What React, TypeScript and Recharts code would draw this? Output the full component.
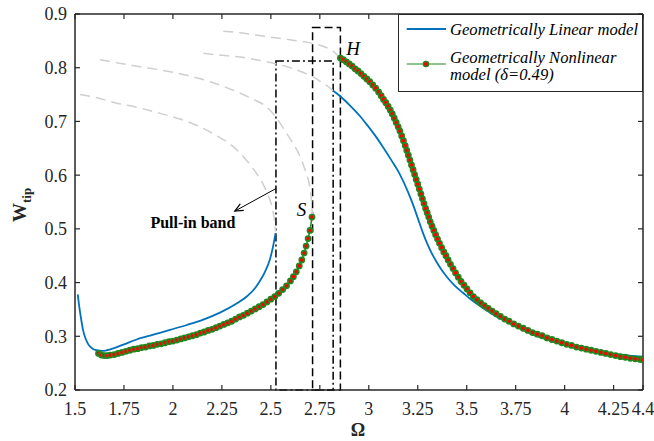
import React from 'react';
import {
  LineChart,
  Line,
  XAxis,
  YAxis,
  ReferenceArea,
  ReferenceLine,
  ReferenceDot,
  Legend,
  Label,
} from 'recharts';

const FONT = '"Liberation Serif", "Times New Roman", serif';
const AXIS = '#262626';
const BLUE = '#0072BD';
const GREEN = '#1f8a1f';
const RED = '#ff0000';
const GRAY = '#cfcfcf';

// ---------- tick labels ----------
const xTicks = [1.5, 1.75, 2, 2.25, 2.5, 2.75, 3, 3.25, 3.5, 3.75, 4, 4.25, 4.4];
const yTicks = [0.2, 0.3, 0.4, 0.5, 0.6, 0.7, 0.8, 0.9];

// ---------- Geometrically linear model (two branches) ----------
const linLowOmega = [1.514, 1.52, 1.53, 1.542, 1.555, 1.568, 1.59, 1.611, 1.64, 1.662, 1.7, 1.75, 1.815, 1.9, 1.985, 2.07, 2.155, 2.24, 2.325, 2.38, 2.42, 2.444, 2.47, 2.495, 2.51, 2.524];
const linLowW = [0.378, 0.36, 0.335, 0.31, 0.295, 0.285, 0.277, 0.274, 0.273, 0.274, 0.278, 0.285, 0.294, 0.303, 0.312, 0.321, 0.331, 0.344, 0.361, 0.375, 0.39, 0.403, 0.42, 0.443, 0.465, 0.492];

const linHighOmega = [2.818, 2.86, 2.903, 2.95, 2.988, 3.03, 3.073, 3.115, 3.158, 3.2, 3.225, 3.25, 3.275, 3.3, 3.325, 3.35, 3.375, 3.4, 3.44, 3.481, 3.52, 3.566, 3.61, 3.651, 3.7, 3.736, 3.78, 3.821, 3.87, 3.92, 3.96, 4.009, 4.06, 4.12, 4.179, 4.24, 4.3, 4.36, 4.4];
const linHighW = [0.757, 0.745, 0.73, 0.712, 0.695, 0.675, 0.652, 0.628, 0.602, 0.569, 0.546, 0.52, 0.494, 0.471, 0.452, 0.436, 0.422, 0.41, 0.394, 0.381, 0.369, 0.357, 0.346, 0.337, 0.328, 0.321, 0.313, 0.306, 0.299, 0.293, 0.288, 0.284, 0.28, 0.275, 0.271, 0.267, 0.265, 0.263, 0.262];

// ---------- Geometrically nonlinear model (two branches) ----------
const nlLowOmega = [1.62, 1.635, 1.65, 1.665, 1.68, 1.7, 1.72, 1.74, 1.76, 1.78, 1.8, 1.82, 1.84, 1.86, 1.88, 1.9, 1.92, 1.94, 1.96, 1.98, 2.0, 2.02, 2.04, 2.06, 2.08, 2.1, 2.12, 2.14, 2.16, 2.18, 2.2, 2.22, 2.24, 2.26, 2.28, 2.3, 2.32, 2.34, 2.36, 2.38, 2.4, 2.42, 2.44, 2.46, 2.48, 2.5, 2.52, 2.54, 2.56, 2.58, 2.6, 2.615, 2.63, 2.645, 2.658, 2.67, 2.68, 2.69, 2.7, 2.71];
const nlLowW = [0.268, 0.265, 0.264, 0.264, 0.265, 0.266, 0.268, 0.27, 0.272, 0.274, 0.276, 0.277, 0.279, 0.28, 0.282, 0.283, 0.285, 0.286, 0.288, 0.29, 0.291, 0.293, 0.295, 0.297, 0.299, 0.301, 0.303, 0.306, 0.308, 0.311, 0.313, 0.316, 0.319, 0.322, 0.325, 0.328, 0.332, 0.336, 0.339, 0.343, 0.347, 0.351, 0.355, 0.359, 0.364, 0.369, 0.374, 0.38, 0.387, 0.394, 0.403, 0.411, 0.42, 0.431, 0.442, 0.455, 0.468, 0.482, 0.497, 0.522];

const nlHighOmega = [2.855, 2.87, 2.885, 2.9, 2.915, 2.93, 2.945, 2.96, 2.975, 2.99, 3.005, 3.02, 3.035, 3.05, 3.063, 3.075, 3.087, 3.099, 3.11, 3.12, 3.13, 3.14, 3.15, 3.159, 3.168, 3.177, 3.186, 3.194, 3.202, 3.21, 3.218, 3.226, 3.234, 3.242, 3.25, 3.258, 3.266, 3.274, 3.282, 3.29, 3.298, 3.306, 3.314, 3.323, 3.332, 3.341, 3.351, 3.361, 3.372, 3.383, 3.394, 3.405, 3.417, 3.43, 3.443, 3.457, 3.471, 3.486, 3.501, 3.517, 3.534, 3.552, 3.571, 3.59, 3.61, 3.63, 3.65, 3.672, 3.694, 3.716, 3.74, 3.764, 3.788, 3.812, 3.836, 3.86, 3.885, 3.91, 3.935, 3.96, 3.985, 4.01, 4.035, 4.06, 4.085, 4.11, 4.135, 4.16, 4.185, 4.21, 4.235, 4.26, 4.285, 4.31, 4.335, 4.36, 4.385, 4.4];
const nlHighW = [0.818, 0.815, 0.811, 0.807, 0.803, 0.798, 0.794, 0.789, 0.784, 0.779, 0.774, 0.768, 0.762, 0.755, 0.748, 0.741, 0.735, 0.728, 0.721, 0.714, 0.706, 0.698, 0.69, 0.682, 0.673, 0.664, 0.655, 0.646, 0.637, 0.628, 0.619, 0.61, 0.601, 0.592, 0.583, 0.574, 0.565, 0.556, 0.547, 0.538, 0.53, 0.522, 0.513, 0.505, 0.497, 0.489, 0.481, 0.473, 0.465, 0.457, 0.45, 0.442, 0.434, 0.426, 0.418, 0.41, 0.402, 0.395, 0.388, 0.381, 0.374, 0.368, 0.362, 0.357, 0.352, 0.347, 0.342, 0.337, 0.332, 0.328, 0.323, 0.319, 0.315, 0.311, 0.307, 0.304, 0.301, 0.297, 0.294, 0.291, 0.288, 0.285, 0.283, 0.28, 0.278, 0.276, 0.274, 0.272, 0.27, 0.268, 0.266, 0.264, 0.262, 0.261, 0.259, 0.258, 0.257, 0.256];

// ---------- light gray dashed backbone curves ----------
const grayAOmega = [1.526, 1.6, 1.713, 1.82, 1.934, 2.04, 2.138, 2.23, 2.308, 2.37, 2.427, 2.465, 2.495, 2.51, 2.52, 2.524];
const grayAW = [0.75, 0.745, 0.734, 0.726, 0.715, 0.704, 0.69, 0.672, 0.653, 0.63, 0.603, 0.58, 0.554, 0.535, 0.51, 0.495];
const grayBOmega = [1.628, 1.7, 1.832, 1.95, 2.07, 2.19, 2.308, 2.4, 2.478, 2.53, 2.58, 2.62, 2.657, 2.68, 2.699, 2.708, 2.712];
const grayBW = [0.815, 0.81, 0.802, 0.795, 0.786, 0.774, 0.758, 0.743, 0.727, 0.706, 0.678, 0.655, 0.628, 0.603, 0.578, 0.55, 0.525];
const grayCOmega = [2.155, 2.25, 2.342, 2.393, 2.48, 2.58, 2.614, 2.68, 2.716, 2.75, 2.792, 2.818];
const grayCW = [0.827, 0.823, 0.82, 0.817, 0.811, 0.802, 0.798, 0.789, 0.783, 0.775, 0.765, 0.757];
const grayDOmega = [2.257, 2.342, 2.478, 2.597, 2.716, 2.78, 2.82, 2.855];
const grayDW = [0.868, 0.865, 0.858, 0.852, 0.845, 0.838, 0.83, 0.818];

// ---------- annotation boxes / arrow / labels ----------
const pullInBox = { x1: 2.526, x2: 2.818, y1: 0.2, y2: 0.8125 };
const jumpBox = { x1: 2.713, x2: 2.855, y1: 0.2, y2: 0.875 };
const arrowFrom = { x: 2.526, y: 0.575 };
const arrowTo = { x: 2.316, y: 0.533 };
const labelS = { x: 2.657, y: 0.536, text: 'S' };
const labelH = { x: 2.92, y: 0.836, text: 'H' };
const labelBand = { x: 2.102, y: 0.511, text: 'Pull-in band' };

const zip = (xs: number[], ys: number[]) => xs.map((x, i) => ({ x, y: ys[i] }));

const linLow = zip(linLowOmega, linLowW);
const linHigh = zip(linHighOmega, linHighW);
const nlLow = zip(nlLowOmega, nlLowW);
const nlHigh = zip(nlHighOmega, nlHighW);
const grays = [zip(grayAOmega, grayAW), zip(grayBOmega, grayBW), zip(grayCOmega, grayCW), zip(grayDOmega, grayDW)];

const arrowShape = (props: any) => {
  const { x1, y1, x2, y2 } = props;
  const ang = Math.atan2(y2 - y1, x2 - x1);
  const L = 9;
  const a = 0.42;
  const p1x = x2 - L * Math.cos(ang - a);
  const p1y = y2 - L * Math.sin(ang - a);
  const p2x = x2 - L * Math.cos(ang + a);
  const p2y = y2 - L * Math.sin(ang + a);
  return (
    <g>
      <line x1={x1} y1={y1} x2={x2} y2={y2} stroke="#000" strokeWidth={1} />
      <polyline points={`${p1x},${p1y} ${x2},${y2} ${p2x},${p2y}`} fill="none" stroke="#000" strokeWidth={1.2} />
    </g>
  );
};

const textLabel = (text: string, size: number, italic: boolean, bold: boolean) => (p: any) => {
  const vb = p.viewBox || {};
  const cx = (vb.x || 0) + (vb.width || 0) / 2;
  const cy = (vb.y || 0) + (vb.height || 0) / 2;
  return (
    <text
      x={cx}
      y={cy}
      textAnchor="middle"
      dominantBaseline="central"
      fontFamily={FONT}
      fontSize={size}
      fontStyle={italic ? 'italic' : 'normal'}
      fontWeight={bold ? 'bold' : 'normal'}
      fill="#000"
    >
      {text}
    </text>
  );
};

const LegendBox = () => (
  <svg width={245} height={78} style={{ display: 'block' }}>
    <rect x={0.5} y={0.5} width={244} height={77} fill="#fff" stroke={AXIS} strokeWidth={1} />
    <line x1={8.7} x2={48} y1={15} y2={15} stroke={BLUE} strokeWidth={2} />
    <text x={52} y={20.5} fontFamily={FONT} fontStyle="italic" fontSize={16.6} fill="#000">
      Geometrically Linear model
    </text>
    <line x1={8.7} x2={48} y1={50} y2={50} stroke={GREEN} strokeWidth={1} />
    <circle cx={28} cy={50} r={2.6} fill={RED} stroke={GREEN} strokeWidth={1.4} />
    <text x={52} y={48.5} fontFamily={FONT} fontStyle="italic" fontSize={16.6} fill="#000">
      Geometrically Nonlinear
    </text>
    <text x={52} y={66} fontFamily={FONT} fontStyle="italic" fontSize={16.6} fill="#000">
      model (δ=0.49)
    </text>
  </svg>
);

const tickStyle = { fill: AXIS, fontSize: 18, fontFamily: FONT };
const markerDot = { r: 2.6, fill: RED, stroke: GREEN, strokeWidth: 1.6 };

export default function App() {
  return (
    <div style={{ position: 'absolute', left: 0, top: 0, width: 654, height: 441, background: '#fff' }}>
      <LineChart width={654} height={441} margin={{ top: 13, right: 10, bottom: 11, left: 15 }}>
        <XAxis
          xAxisId={0}
          dataKey="x"
          type="number"
          domain={[1.5, 4.4]}
          ticks={xTicks}
          interval={0}
          allowDataOverflow
          height={40}
          tickSize={-5}
          tickMargin={17}
          tick={tickStyle}
          axisLine={{ stroke: AXIS, strokeWidth: 1.5 }}
          tickLine={{ stroke: AXIS, strokeWidth: 1.2 }}
        >
          <Label
            content={(p: any) => {
              const vb = p.viewBox;
              return (
                <text x={vb.x + vb.width / 2 - 1} y={vb.y + 46} textAnchor="middle" fontFamily={FONT} fontWeight="bold" fontSize={18} fill={AXIS}>
                  Ω
                </text>
              );
            }}
          />
        </XAxis>
        <XAxis
          xAxisId="top"
          orientation="top"
          dataKey="x"
          type="number"
          domain={[1.5, 4.4]}
          ticks={xTicks}
          interval={0}
          allowDataOverflow
          height={1}
          tickSize={-5}
          tickFormatter={() => ''}
          axisLine={{ stroke: AXIS, strokeWidth: 1.5 }}
          tickLine={{ stroke: AXIS, strokeWidth: 1.2 }}
        />
        <YAxis
          yAxisId={0}
          type="number"
          domain={[0.2, 0.9]}
          ticks={yTicks}
          interval={0}
          allowDataOverflow
          width={60}
          tickSize={-5}
          tickMargin={13}
          tick={tickStyle}
          axisLine={{ stroke: AXIS, strokeWidth: 1.5 }}
          tickLine={{ stroke: AXIS, strokeWidth: 1.2 }}
        >
          <Label
            content={(p: any) => {
              const vb = p.viewBox;
              const x = vb.x + 11;
              const y = vb.y + vb.height / 2 + 20;
              return (
                <text transform={`translate(${x},${y}) rotate(-90)`} textAnchor="start" fontFamily={FONT} fontWeight="bold" fill={AXIS}>
                  <tspan fontSize={19}>W</tspan>
                  <tspan fontSize={13} dy={5}>tip</tspan>
                </text>
              );
            }}
          />
        </YAxis>
        <YAxis
          yAxisId="right"
          orientation="right"
          type="number"
          domain={[0.2, 0.9]}
          ticks={yTicks}
          interval={0}
          allowDataOverflow
          width={1}
          tickSize={-5}
          tickFormatter={() => ''}
          axisLine={{ stroke: AXIS, strokeWidth: 1.5 }}
          tickLine={{ stroke: AXIS, strokeWidth: 1.2 }}
        />

        {grays.map((g, i) => (
          <Line
            key={`g${i}`}
            data={g}
            dataKey="y"
            type="monotone"
            stroke={GRAY}
            strokeWidth={1.5}
            strokeDasharray="10 6"
            dot={false}
            activeDot={false}
            isAnimationActive={false}
            legendType="none"
          />
        ))}

        <ReferenceArea {...pullInBox} fill="none" fillOpacity={0} stroke="#000" strokeWidth={1.5} strokeDasharray="8 3 2 3" ifOverflow="visible" />
        <ReferenceArea {...jumpBox} fill="none" fillOpacity={0} stroke="#000" strokeWidth={1.5} strokeDasharray="8 4" ifOverflow="visible" />

        <Line data={linLow} dataKey="y" type="monotone" stroke={BLUE} strokeWidth={1.8} dot={false} activeDot={false} isAnimationActive={false} />
        <Line data={linHigh} dataKey="y" type="monotone" stroke={BLUE} strokeWidth={1.8} dot={false} activeDot={false} isAnimationActive={false} />

        <Line
          data={nlLow}
          dataKey="y"
          type="linear"
          stroke={GREEN}
          strokeWidth={1.5}
          dot={markerDot}
          activeDot={false}
          isAnimationActive={false}
        />
        <Line
          data={nlHigh}
          dataKey="y"
          type="linear"
          stroke={GREEN}
          strokeWidth={1.5}
          dot={markerDot}
          activeDot={false}
          isAnimationActive={false}
        />

        <ReferenceLine segment={[arrowFrom, arrowTo]} shape={arrowShape} ifOverflow="visible" />

        <ReferenceDot x={labelS.x} y={labelS.y} r={0} fill="none" stroke="none" label={textLabel(labelS.text, 19, true, false)} />
        <ReferenceDot x={labelH.x} y={labelH.y} r={0} fill="none" stroke="none" label={textLabel(labelH.text, 19, true, false)} />
        <ReferenceDot x={labelBand.x} y={labelBand.y} r={0} fill="none" stroke="none" label={textLabel(labelBand.text, 16, false, true)} />

        <Legend
          verticalAlign="middle"
          align="center"
          layout="horizontal"
          wrapperStyle={{ position: 'absolute', left: 398, top: 14, width: 245, height: 78 }}
          content={() => <LegendBox />}
        />
      </LineChart>
    </div>
  );
}
